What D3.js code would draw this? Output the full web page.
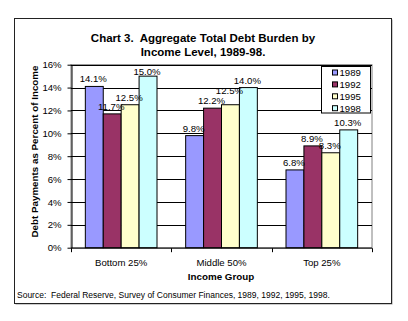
<!DOCTYPE html>
<html><head><meta charset="utf-8">
<script src="https://cdn.jsdelivr.net/npm/d3@7"></script>
<style>body{margin:0;background:#fff}svg{display:block;font-family:"Liberation Sans",Arial,sans-serif}</style>
</head><body>
<script>
const categories = ["Bottom 25%", "Middle 50%", "Top 25%"];
const series = ["1989", "1992", "1995", "1998"];
const values1989 = [14.1, 9.8, 6.8];
const values1992 = [11.7, 12.2, 8.9];
const values1995 = [12.5, 12.5, 8.3];
const values1998 = [15.0, 14.0, 10.3];
const yTicks = [0, 2, 4, 6, 8, 10, 12, 14, 16];
const colors = ["#9999FF", "#993366", "#FFFFCC", "#CCFFFF"];
const titleLines = ["Chart 3.  Aggregate Total Debt Burden by", "Income Level, 1989-98."];

const seriesValues = [values1989, values1992, values1995, values1998];
const W = 408, H = 321;
const svg = d3.select("body").append("svg").attr("width", W).attr("height", H);

// outer frame with shadow
svg.append("rect").attr("x", 15.5).attr("y", 19.5).attr("width", 377).attr("height", 285).attr("fill", "#999");
svg.append("rect").attr("x", 14.5).attr("y", 18.5).attr("width", 377).attr("height", 285).attr("fill", "#fff").attr("stroke", "#222");

const L = 71, R = 372, T = 64.7, B = 247.7;
const x = d3.scaleBand().domain(categories).range([L, R]).paddingInner(0).paddingOuter(0);
const xi = d3.scaleBand().domain(series).range([0, x.bandwidth()]).paddingInner(0).paddingOuter(0.8);
const y = d3.scaleLinear().domain([0, 16]).range([B, T]);

// title
titleLines.forEach((t, i) => {
  svg.append("text").attr("x", 203).attr("y", 42 + i * 14).attr("text-anchor", "middle")
    .style("white-space", "pre").attr("font-weight", "bold").attr("font-size", "11.5px").text(t);
});

// plot border
svg.append("rect").attr("x", L).attr("y", y(16)).attr("width", R - L).attr("height", B - y(16))
  .attr("fill", "#fff").attr("stroke", "#808080");

// gridlines
svg.append("g").selectAll("line").data(yTicks.filter(d => d > 0)).join("line")
  .attr("x1", L).attr("x2", R).attr("y1", d => Math.round(y(d)) + 0.5).attr("y2", d => Math.round(y(d)) + 0.5)
  .attr("stroke", "#000");

// bars
seriesValues.forEach((vals, si) => {
  svg.append("g").selectAll("rect").data(vals).join("rect")
    .attr("x", (d, i) => x(categories[i]) + xi(series[si]))
    .attr("y", d => y(d))
    .attr("width", xi.bandwidth())
    .attr("height", d => B - y(d))
    .attr("fill", colors[si]).attr("stroke", "#000").attr("stroke-width", 1);
});

// value labels; kept inside the plot, and raised when a taller label collides with the previous one
const labels = svg.append("g").attr("font-size", "9.6px").attr("text-anchor", "middle").attr("fill", "#000");
categories.forEach((c, ci) => {
  let prev = null, prevVal = null;
  seriesValues.forEach((vals, si) => {
    const d = vals[ci];
    const cx = x(c) + xi(series[si]) + xi.bandwidth() / 2 - 1;
    let by = Math.max(y(d) - 4, T + 10.3);
    const txt = labels.append("text").attr("x", cx).attr("y", by).text(d.toFixed(1) + "%");
    const w = txt.node().getComputedTextLength();
    const box = {x0: cx - w / 2, x1: cx + w / 2, top: by - 7.5, bot: by + 1};
    if (prev && d >= prevVal && box.x0 < prev.x1 && box.bot > prev.top && box.top < prev.bot) {
      by = prev.top - 3;
      txt.attr("y", by);
      box.top = by - 7.5; box.bot = by + 1;
    }
    prev = box; prevVal = d;
  });
});

// y axis
const yAxis = svg.append("g").attr("transform", `translate(${L + 0.5},0)`)
  .call(d3.axisLeft(y).tickValues(yTicks).tickFormat(d => d + "%").tickSize(4).tickSizeOuter(0));
yAxis.select(".domain").attr("stroke", "#000");
yAxis.selectAll("text").attr("font-size", "9.6px").attr("font-family", "Liberation Sans, Arial, sans-serif").attr("fill", "#000").attr("dx", "-0.3em");

// x axis
const xAxis = svg.append("g").attr("transform", `translate(0,${B + 0.5})`);
xAxis.append("line").attr("x1", L).attr("x2", R).attr("y1", 0).attr("y2", 0).attr("stroke", "#000");
const bounds = categories.map(c => x(c)).concat([R]);
xAxis.selectAll("line.t").data(bounds).join("line").attr("class", "t")
  .attr("x1", d => Math.round(d) + 0.5).attr("x2", d => Math.round(d) + 0.5).attr("y1", 0).attr("y2", 4).attr("stroke", "#000");
xAxis.selectAll("text").data(categories).join("text")
  .attr("x", d => x(d) + x.bandwidth() / 2).attr("y", 17.5).attr("text-anchor", "middle")
  .attr("font-size", "9.6px").text(d => d);

// axis titles
svg.append("text").attr("x", 221).attr("y", 280).attr("text-anchor", "middle")
  .attr("font-weight", "bold").attr("font-size", "9.8px").text("Income Group");
svg.append("text").attr("transform", "translate(38,151.5) rotate(-90)").attr("text-anchor", "middle")
  .attr("font-weight", "bold").attr("font-size", "9.8px").text("Debt Payments as Percent of Income");

// legend
const lg = svg.append("g");
lg.append("rect").attr("x", 321.5).attr("y", 66.5).attr("width", 49).attr("height", 46.5)
  .attr("fill", "#fff").attr("stroke", "#000");
series.forEach((s, i) => {
  const cy = 72.5 + i * 11.9;
  lg.append("rect").attr("x", 332.5).attr("y", cy - 2.5).attr("width", 5).attr("height", 5)
    .attr("fill", colors[i]).attr("stroke", "#000");
  lg.append("text").attr("x", 339.5).attr("y", cy + 3.5).attr("font-size", "9.6px").text(s);
});

// source
svg.append("text").attr("x", 17).attr("y", 298).attr("font-size", "8.5px").style("white-space", "pre")
  .text("Source:  Federal Reserve, Survey of Consumer Finances, 1989, 1992, 1995, 1998.");
</script>
</body></html>
